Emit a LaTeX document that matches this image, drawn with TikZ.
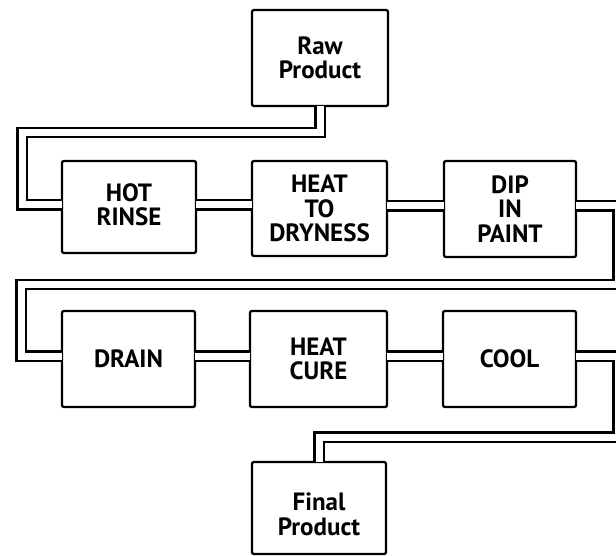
\documentclass[tikz,border=0pt]{standalone}
\usepackage{fontspec}
\setmainfont{PT Sans}
\begin{document}
\begin{tikzpicture}[x=1pt,y=-1pt,
  box/.style={draw, line width=2.3pt, rounded corners=2pt, align=center,
    inner sep=0pt, font=\fontsize{25}{24.5}\selectfont\bfseries},
  pipe/.style={draw, line width=2.3pt, double=white, double distance=7pt,
    line join=miter, shorten <=-1.6pt, shorten >=-1.6pt}]
\useasboundingbox (0,0) rectangle (616,556);
% boxes
\node[box, minimum width=136pt, minimum height=96pt] (raw) at (320,58) {Raw\\Product};
\node[box, minimum width=134pt, minimum height=92pt] (hot) at (129,207) {HOT\\RINSE\rule[-5pt]{0pt}{5pt}};
\node[box, minimum width=135pt, minimum height=95pt] (dry) at (319.5,208.5) {HEAT\\TO\\DRYNESS};
\node[box, minimum width=132pt, minimum height=96pt] (dip) at (510,209) {DIP\\IN\\PAINT};
\node[box, minimum width=133pt, minimum height=96pt] (drain) at (128.5,359) {DRAIN};
\node[box, minimum width=137pt, minimum height=96pt] (cure) at (318.5,359) {HEAT\\CURE};
\node[box, minimum width=133pt, minimum height=96pt] (cool) at (509.5,359) {COOL};
\node[box, minimum width=134pt, minimum height=92pt] (final) at (319,508) {\rule{0pt}{30pt}Final\\Product};
% pipes
\draw[pipe] (raw.south) -- (320,132.5) -- (22,132.5) -- (22,205) -- (hot.west |- 0,205);
\draw[pipe] (hot.east |- 0,205) -- (dry.west |- 0,205);
\draw[pipe] (dry.east |- 0,206) -- (dip.west |- 0,206);
\draw[pipe] (dip.east |- 0,206) -- (618,206) -- (618,284.5) -- (21,284.5) -- (21,356) -- (drain.west |- 0,356);
\draw[pipe] (drain.east |- 0,356) -- (cure.west |- 0,356);
\draw[pipe] (cure.east |- 0,356) -- (cool.west |- 0,356);
\draw[pipe] (cool.east |- 0,356) -- (618,356) -- (618,437) -- (final.north |- 0,437) -- (final.north);
\end{tikzpicture}
\end{document}
